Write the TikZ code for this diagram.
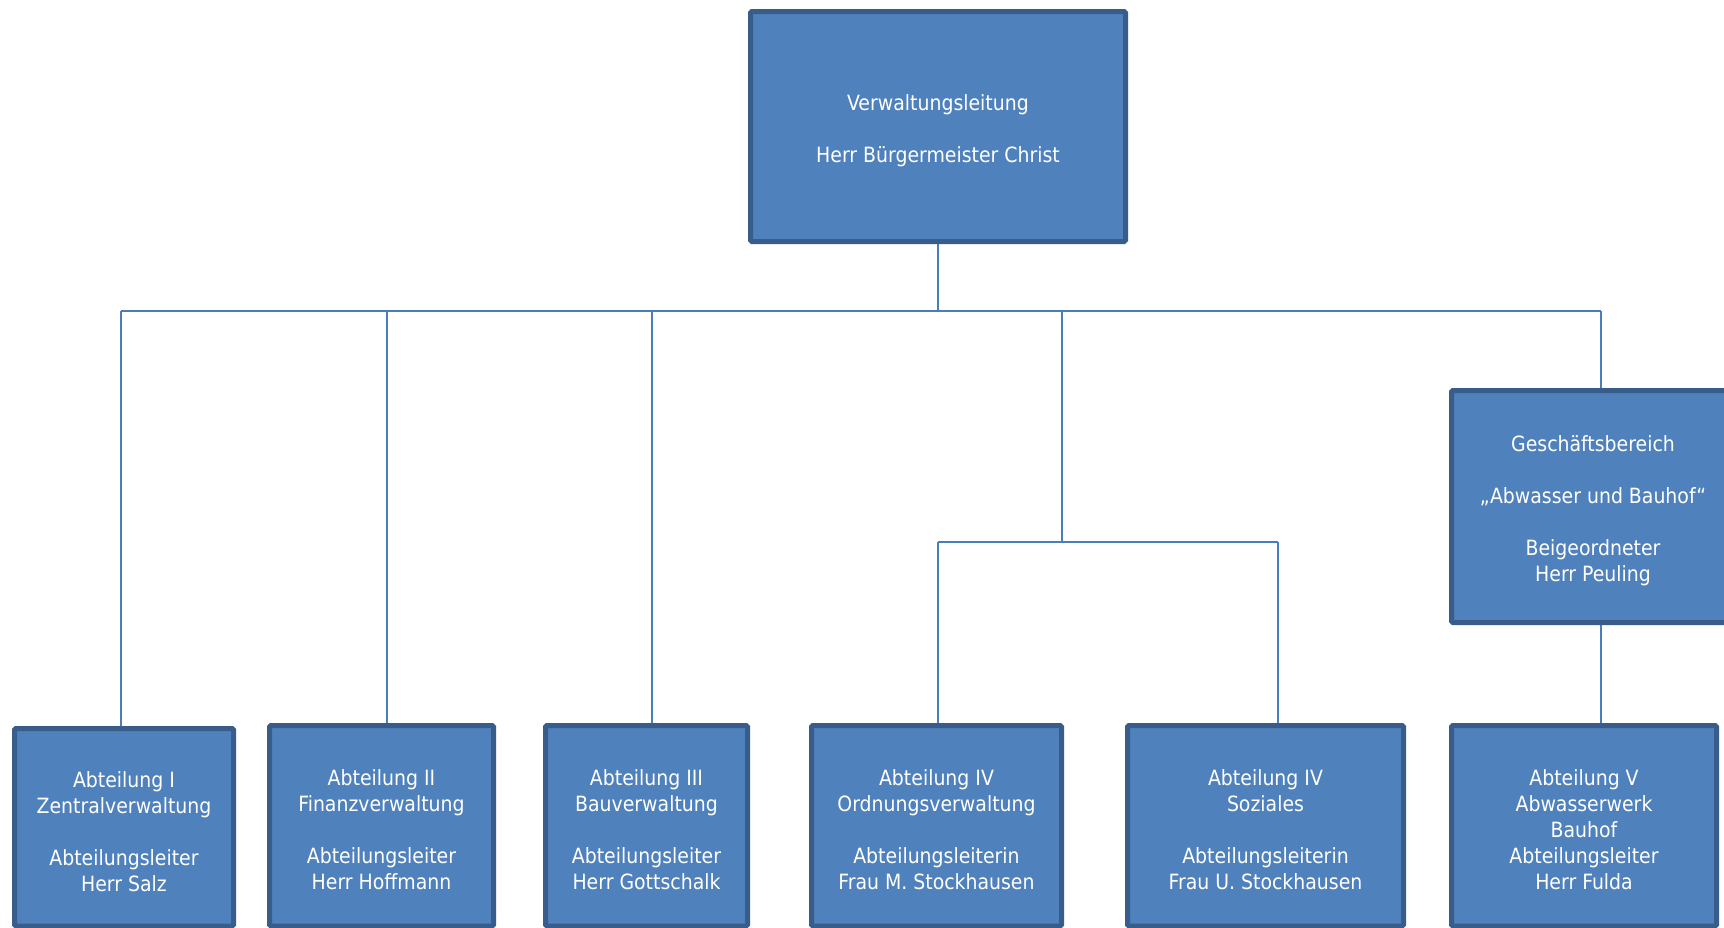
\documentclass[tikz,border=0pt]{standalone}
\usepackage{fontspec}
\setmainfont{DejaVu Sans Condensed}
\definecolor{boxfill}{HTML}{4F81BD}
\definecolor{boxline}{HTML}{385D8A}
\definecolor{connline}{HTML}{4A7EBB}
\begin{document}
\begin{tikzpicture}[x=1pt,y=-1pt,
  orgbox/.style={draw=boxline, line width=5pt, fill=boxfill,
    inner sep=0pt, rounded corners=1.5pt},
  orgtext/.style={text=white, align=center, inner sep=0pt, yshift=-4pt,
    font=\fontsize{21}{26}\selectfont},
  conn/.style={draw=connline, line width=2pt}]
\fill[white] (0,0) rectangle (1724,927);
\useasboundingbox (0,0) rectangle (1724,927);

\node[orgbox, minimum width=375pt, minimum height=230pt,
  label={[orgtext]center:{Verwaltungsleitung\\[26pt]Herr Bürgermeister Christ}}] (top) at (938,126.5) {};
\node[orgbox, minimum width=283pt, minimum height=232pt,
  label={[orgtext]center:{Geschäftsbereich\\[26pt]„Abwasser und Bauhof“\\[26pt]Beigeordneter\\Herr Peuling}}] (gb) at (1593,506.5) {};

\node[orgbox, minimum width=219pt, minimum height=197.5pt,
  label={[orgtext]center:{Abteilung I\\Zentralverwaltung\\[26pt]Abteilungsleiter\\Herr Salz}}] (b1) at (124,827.25) {};
\node[orgbox, minimum width=224pt, minimum height=200.5pt,
  label={[orgtext]center:{Abteilung II\\Finanzverwaltung\\[26pt]Abteilungsleiter\\Herr Hoffmann}}] (b2) at (381.5,825.75) {};
\node[orgbox, minimum width=202pt, minimum height=200.5pt,
  label={[orgtext]center:{Abteilung III\\Bauverwaltung\\[26pt]Abteilungsleiter\\Herr Gottschalk}}] (b3) at (646.5,825.75) {};
\node[orgbox, minimum width=250pt, minimum height=200.5pt,
  label={[orgtext]center:{Abteilung IV\\Ordnungsverwaltung\\[26pt]Abteilungsleiterin\\Frau M. Stockhausen}}] (b4) at (936.5,825.75) {};
\node[orgbox, minimum width=276pt, minimum height=200.5pt,
  label={[orgtext]center:{Abteilung IV\\Soziales\\[26pt]Abteilungsleiterin\\Frau U. Stockhausen}}] (b5) at (1265.5,825.75) {};
\node[orgbox, minimum width=265pt, minimum height=200.5pt,
  label={[orgtext]center:{Abteilung V\\Abwasserwerk\\Bauhof\\Abteilungsleiter\\Herr Fulda}}] (b6) at (1584,825.75) {};

\coordinate (bus) at (938,311);
\coordinate (busL) at (121,311);
\coordinate (busR) at (1601,311);
\coordinate (d2) at (387,311);
\coordinate (d3) at (652,311);
\coordinate (d4) at (1062,311);
\coordinate (sub) at (1062,542);
\coordinate (subL) at (938,542);
\coordinate (subR) at (1278,542);

\draw[conn] (top.south) -- (bus);
\draw[conn] (busL) -- (busR);
\draw[conn] (busL) -- (busL |- b1.north);
\draw[conn] (d2) -- (d2 |- b2.north);
\draw[conn] (d3) -- (d3 |- b3.north);
\draw[conn] (d4) -- (sub);
\draw[conn] (subL) -- (subR);
\draw[conn] (subL) -- (subL |- b4.north);
\draw[conn] (subR) -- (subR |- b5.north);
\draw[conn] (busR) -- (busR |- gb.north);
\draw[conn] (busR |- gb.south) -- (busR |- b6.north);
\end{tikzpicture}
\end{document}
